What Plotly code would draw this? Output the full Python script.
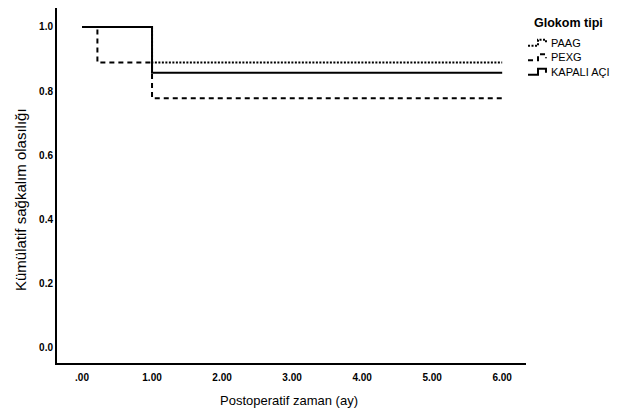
import plotly.graph_objects as go

# Data
paag_t = [0, 1.0, 6.0]
paag_s = [1.0, 0.889, 0.889]
pexg_t = [0, 0.22, 1.0, 6.0]
pexg_s = [1.0, 0.889, 0.778, 0.778]
kapali_t = [0, 1.0, 6.0]
kapali_s = [1.0, 0.857, 0.857]

series_names = ["PAAG", "PEXG", "KAPALI AÇI"]
x_ticks = [0, 1, 2, 3, 4, 5, 6]
x_ticktext = [".00", "1.00", "2.00", "3.00", "4.00", "5.00", "6.00"]
y_ticks = [0, 0.2, 0.4, 0.6, 0.8, 1.0]
y_ticktext = ["0.0", "0.2", "0.4", "0.6", "0.8", "1.0"]

W, H = 629, 412
ML, MR, MT, MB = 57, 103, 8, 49
PW, PH = W - ML - MR, H - MT - MB


def px(xp):
    return (xp - ML) / PW


def py(yp):
    return (H - MB - yp) / PH


dashes = ["2px,1.5px", "5px,4px", "solid"]

fig = go.Figure()
for t, s, name, d in zip([paag_t, pexg_t, kapali_t], [paag_s, pexg_s, kapali_s],
                         series_names, dashes):
    fig.add_trace(go.Scatter(x=t, y=s, mode="lines", name=name, showlegend=False,
                             line=dict(shape="hv", color="black", width=2, dash=d)))

annotations = [
    dict(text="Postoperatif zaman (ay)", x=px(289), y=py(400), xref="paper", yref="paper",
         xanchor="center", yanchor="middle", showarrow=False, font=dict(size=13)),
    dict(text="Kümülatif sağkalım olasılığı", x=px(21), y=py(200), xref="paper", yref="paper",
         xanchor="center", yanchor="middle", showarrow=False, textangle=-90,
         font=dict(size=15)),
    dict(text="<b>Glokom tipi</b>", x=px(532), y=py(23), xref="paper", yref="paper",
         xanchor="left", yanchor="middle", showarrow=False, font=dict(size=12.5)),
]
shapes = []
item_y = [42.7, 57.3, 71.7]
for name, d, yc in zip(series_names, dashes, item_y):
    annotations.append(dict(text=name, x=px(549), y=py(yc), xref="paper", yref="paper",
                            xanchor="left", yanchor="middle", showarrow=False,
                            font=dict(size=11)))
    pts = [(528, yc + 3), (538, yc + 3), (538, yc - 3), (546, yc - 3), (546, yc + 1)]
    path = "M " + " L ".join(f"{px(a):.4f},{py(b):.4f}" for a, b in pts)
    shapes.append(dict(type="path", path=path, xref="paper", yref="paper",
                       line=dict(color="black", width=2, dash=d)))

fig.update_layout(
    width=W, height=H,
    margin=dict(l=ML, r=MR, t=MT, b=MB),
    paper_bgcolor="white", plot_bgcolor="white",
    font=dict(family="Liberation Sans, Arial, sans-serif", color="black"),
    showlegend=False,
    annotations=annotations,
    shapes=shapes,
    xaxis=dict(
        range=[-0.357, 6.34], showgrid=False, zeroline=False, automargin=False,
        showline=True, linecolor="black", linewidth=2,
        tickvals=x_ticks, ticktext=x_ticktext, ticks="", ticklabelstandoff=4,
        tickfont=dict(size=10, weight="bold"),
    ),
    yaxis=dict(
        range=[-0.047, 1.059], showgrid=False, zeroline=False, automargin=False,
        showline=True, linecolor="black", linewidth=2,
        tickvals=y_ticks, ticktext=y_ticktext, ticks="",
        tickfont=dict(size=10, weight="bold"),
    ),
)

fig.write_html("out.html", config={"displayModeBar": False},
               post_script="document.body.style.margin='0px';")
